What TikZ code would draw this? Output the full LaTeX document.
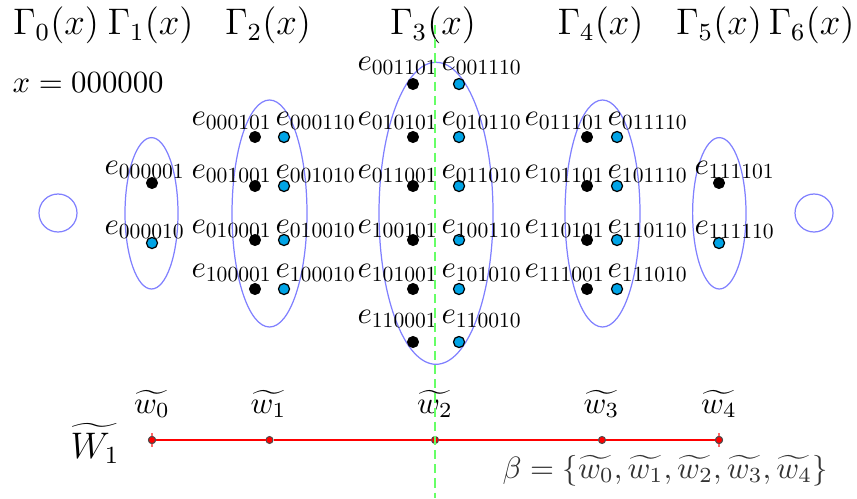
\documentclass[tikz,border=0pt]{standalone}
\usepackage{graphicx}
\definecolor{dotblue}{RGB}{0,164,230}
\definecolor{grpblue}{RGB}{128,128,255}
\newcommand{\sdig}[1]{\scalebox{0.7}{#1}}
\begin{document}
\begin{tikzpicture}[x=0.3247pt,y=-0.3247pt,
  bdot/.style={circle,fill=black,draw=black,line width=0.3pt,inner sep=0pt,minimum size=3.6pt},
  cdot/.style={circle,fill=dotblue,draw=black,line width=0.4pt,inner sep=0pt,minimum size=3.6pt},
  lab/.style={inner sep=0pt,anchor=base west},
  elab/.style={lab},
  hdr/.style={inner sep=0pt,anchor=base,font=\large},
  grp/.style={draw=grpblue,line width=0.4pt},
  rdot/.style={circle,fill=red,draw=black!70,line width=0.3pt,inner sep=0pt,minimum size=2.3pt},
  rline/.style={draw=red,line width=0.6pt},
  rtick/.style={draw=red!60,line width=0.6pt},
  gline/.style={draw=green!60,line width=0.9pt,dash pattern=on 3pt off 1.6pt}]
\useasboundingbox (0,0) rectangle (857,498);

% headers
\node[hdr] (h0) at (56,35) {$\Gamma_0(x)$};
\node[hdr] (h1) at (150.5,35) {$\Gamma_1(x)$};
\node[hdr] (h2) at (268,35) {$\Gamma_2(x)$};
\node[hdr] (h3) at (433,35) {$\Gamma_3(x)$};
\node[hdr] (h4) at (600.5,35) {$\Gamma_4(x)$};
\node[hdr] (h5) at (719,35) {$\Gamma_5(x)$};
\node[hdr] (h6) at (811.5,35) {$\Gamma_6(x)$};
\node[lab] (xval) at (12,92) {$x=000000$};

% groups
\draw[grp] (58,213) circle [radius=19];
\draw[grp] (814,213) circle [radius=19];
\draw[grp] (151.5,213.3) ellipse [x radius=26.5, y radius=75.7];
\draw[grp] (269.5,213.5) ellipse [x radius=37.5, y radius=113.5];
\draw[grp] (436,213.3) ellipse [x radius=57, y radius=151];
\draw[grp] (602.5,213.5) ellipse [x radius=37.5, y radius=113.5];
\draw[grp] (719.3,213.3) ellipse [x radius=26.7, y radius=75.7];

% Gamma_1
\node[bdot] (g1b) at (152,183) {};
\node[cdot] (g1c) at (152,243) {};
\node[elab] (l1b) at (104,174) {$e_{\sdig{000001}}$};
\node[elab] (l1c) at (104,234) {$e_{\sdig{000010}}$};

% Gamma_2
\foreach \r/\y/\by/\bl/\cl in {1/137/125/000101/000110,2/186/178/001001/001010,3/240/233/010001/010010,4/289/277/100001/100010}{
  \node[bdot] (g2b\r) at (255,\y) {};
  \node[cdot] (g2c\r) at (284,\y) {};
  \node[elab] (l2b\r) at (191,\by) {$e_{\sdig{\bl}}$};
  \node[elab] (l2c\r) at (275,\by) {$e_{\sdig{\cl}}$};
}

% Gamma_3
\foreach \r/\y/\by/\bl/\cl in {1/84/70/001101/001110,2/137/125/010101/010110,3/186/178/011001/011010,4/240/233/100101/100110,5/289/277/101001/101010,6/342/323/110001/110010}{
  \node[bdot] (g3b\r) at (413,\y) {};
  \node[cdot] (g3c\r) at (459,\y) {};
  \node[elab] (l3b\r) at (357,\by) {$e_{\sdig{\bl}}$};
  \node[elab] (l3c\r) at (441,\by) {$e_{\sdig{\cl}}$};
}

% Gamma_4
\foreach \r/\y/\by/\bl/\cl in {1/137/125/011101/011110,2/186/178/101101/101110,3/240/233/110101/110110,4/289/277/111001/111010}{
  \node[bdot] (g4b\r) at (587,\y) {};
  \node[cdot] (g4c\r) at (617,\y) {};
  \node[elab] (l4b\r) at (524,\by) {$e_{\sdig{\bl}}$};
  \node[elab] (l4c\r) at (607,\by) {$e_{\sdig{\cl}}$};
}

% Gamma_5
\node[bdot] (g5b) at (719,183) {};
\node[cdot] (g5c) at (719,243) {};
\node[elab] (l5b) at (694,174) {$e_{\sdig{111101}}$};
\node[elab] (l5c) at (694,234) {$e_{\sdig{111110}}$};

% bottom line
\node[rdot] (w0) at (152,440) {};
\node[rdot] (w1) at (269.5,440) {};
\node[rdot] (w2) at (435,440) {};
\node[rdot] (w3) at (602,440) {};
\node[rdot] (w4) at (719,440) {};
\draw[rline] (w0) -- (w1) -- (w2) -- (w3) -- (w4);
\draw[rtick] (w0.center) ++(0,-7) -- ++(0,14);
\draw[rtick] (w4.center) ++(0,-7) -- ++(0,14);
\node[rdot] at (w0) {};
\node[rdot] at (w4) {};
\node[hdr,font=\normalsize] (lw0) at (152,413) {$\widetilde{w_0}$};
\node[hdr,font=\normalsize] (lw1) at (268.5,413) {$\widetilde{w_1}$};
\node[hdr,font=\normalsize] (lw2) at (435,413) {$\widetilde{w_2}$};
\node[hdr,font=\normalsize] (lw3) at (601.5,413) {$\widetilde{w_3}$};
\node[hdr,font=\normalsize] (lw4) at (719,413) {$\widetilde{w_4}$};
\node[hdr] (W1) at (95,458) {$\widetilde{W_1}$};
\node[lab,text=black!80] (beta) at (502,478) {$\beta=\{\widetilde{w_0},\widetilde{w_1},\widetilde{w_2},\widetilde{w_3},\widetilde{w_4}\}$};

% green dashed line
\coordinate (gtop) at (435,25);
\coordinate (gbot) at (435,498);
\draw[gline] (gtop) -- (gbot);
\end{tikzpicture}
\end{document}
